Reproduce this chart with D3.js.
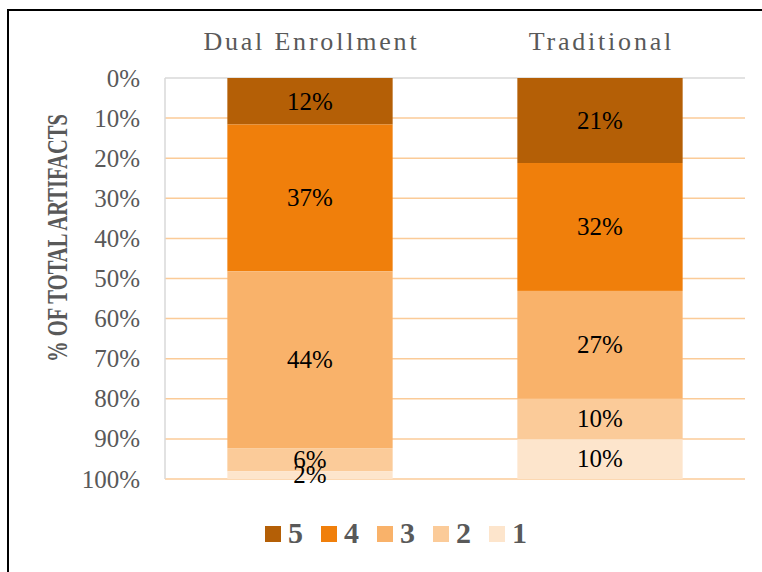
<!DOCTYPE html>
<html>
<head>
<meta charset="utf-8">
<script src="https://cdn.jsdelivr.net/npm/d3@7/dist/d3.min.js"></script>
<style>
  body { margin: 0; background: #fff; }
  svg { display: block; }
  text { font-family: "Liberation Serif", "Times New Roman", serif; }
  .tick-label { fill: #595959; font-size: 25px; }
  .cat-label { fill: #595959; font-size: 26px; letter-spacing: 2.8px; }
  .seg-label { fill: #000; font-size: 25px; }
  .legend-label { fill: #595959; font-size: 30px; font-weight: bold; }
</style>
</head>
<body>
<script>
  // chart data
  const categories = ['Dual Enrollment', 'Traditional'];
  const levels = ['5', '4', '3', '2', '1'];
  const level5 = [0.116, 0.212];
  const level4 = [0.366, 0.319];
  const level3 = [0.441, 0.269];
  const level2 = [0.058, 0.101];
  const level1 = [0.019, 0.099];
  const yTicks = [0, 0.1, 0.2, 0.3, 0.4, 0.5, 0.6, 0.7, 0.8, 0.9, 1];

  const colors = ['#b45f06', '#f07f0b', '#f9b26a', '#fbcb99', '#fde5cc'];

  const width = 762, height = 572;
  const margin = {top: 78, right: 17, bottom: 93, left: 165};

  const rows = categories.map(function(c, i) {
    return {cat: c, '5': level5[i], '4': level4[i], '3': level3[i], '2': level2[i], '1': level1[i]};
  });

  const svg = d3.select('body').append('svg')
    .attr('width', width)
    .attr('height', height);

  // outer border
  svg.append('rect')
    .attr('x', 8).attr('y', 10)
    .attr('width', 800).attr('height', 600)
    .attr('fill', 'none')
    .attr('stroke', '#000')
    .attr('stroke-width', 2);

  const x = d3.scaleBand()
    .domain(categories)
    .range([margin.left, width - margin.right])
    .paddingInner(0.43)
    .paddingOuter(0.215);

  const y = d3.scaleLinear()
    .domain([0, 1])
    .range([margin.top, height - margin.bottom]);

  const color = d3.scaleOrdinal().domain(levels).range(colors);

  // gridlines
  svg.append('g')
    .selectAll('line')
    .data(yTicks.slice(1))
    .join('line')
    .attr('x1', margin.left).attr('x2', width - margin.right)
    .attr('y1', d => y(d)).attr('y2', d => y(d))
    .attr('stroke', '#fbcb98')
    .attr('stroke-width', 1.5);

  // axis lines (top = 0%, left)
  svg.append('line')
    .attr('x1', margin.left).attr('x2', width - margin.right)
    .attr('y1', y(0)).attr('y2', y(0))
    .attr('stroke', '#d9d9d9').attr('stroke-width', 1.5);
  svg.append('line')
    .attr('x1', margin.left).attr('x2', margin.left)
    .attr('y1', y(0)).attr('y2', y(1))
    .attr('stroke', '#d9d9d9').attr('stroke-width', 1.5);

  // y axis labels
  const yAxis = d3.axisLeft(y)
    .tickValues(yTicks)
    .tickFormat(d3.format('.0%'))
    .tickSize(0)
    .tickPadding(25);
  const yg = svg.append('g')
    .attr('transform', 'translate(' + margin.left + ',0)')
    .call(yAxis)
    .attr('font-family', null)
    .attr('font-size', null);
  yg.select('.domain').remove();
  yg.selectAll('text')
    .attr('class', 'tick-label')
    .attr('fill', null);

  // category labels on top
  svg.append('g')
    .selectAll('text')
    .data(categories)
    .join('text')
    .attr('class', 'cat-label')
    .attr('x', d => x(d) + x.bandwidth() / 2 + 1.4)
    .attr('y', 50)
    .attr('text-anchor', 'middle')
    .text(d => d);

  // stacked bars
  const series = d3.stack().keys(levels)(rows);

  const groups = svg.append('g')
    .selectAll('g')
    .data(series)
    .join('g')
    .attr('fill', d => color(d.key));

  groups.selectAll('rect')
    .data(d => d)
    .join('rect')
    .attr('x', d => x(d.data.cat))
    .attr('width', x.bandwidth())
    .attr('y', d => y(d[0]))
    .attr('height', d => y(d[1]) - y(d[0]));

  const fmt = d3.format('.0%');
  svg.append('g')
    .selectAll('g')
    .data(series)
    .join('g')
    .selectAll('text')
    .data(d => d)
    .join('text')
    .attr('class', 'seg-label')
    .attr('x', d => x(d.data.cat) + x.bandwidth() / 2)
    .attr('y', d => (y(d[0]) + y(d[1])) / 2)
    .attr('dy', '0.33em')
    .attr('text-anchor', 'middle')
    .text(d => fmt(d[1] - d[0]));

  // y axis title
  svg.append('text')
    .attr('transform', 'translate(67,238) rotate(-90)')
    .attr('text-anchor', 'middle')
    .attr('fill', '#595959')
    .attr('font-size', 29)
    .attr('font-weight', 'bold')
    .attr('textLength', 248)
    .attr('lengthAdjust', 'spacingAndGlyphs')
    .text('% OF TOTAL ARTIFACTS');

  // legend
  const legend = svg.append('g')
    .selectAll('g')
    .data(levels)
    .join('g')
    .attr('transform', (d, i) => 'translate(' + (265 + i * 56) + ',526)');
  legend.append('rect')
    .attr('width', 16).attr('height', 16)
    .attr('fill', d => color(d));
  legend.append('text')
    .attr('class', 'legend-label')
    .attr('x', 23)
    .attr('y', 17)
    .text(d => d);
</script>
</body>
</html>
